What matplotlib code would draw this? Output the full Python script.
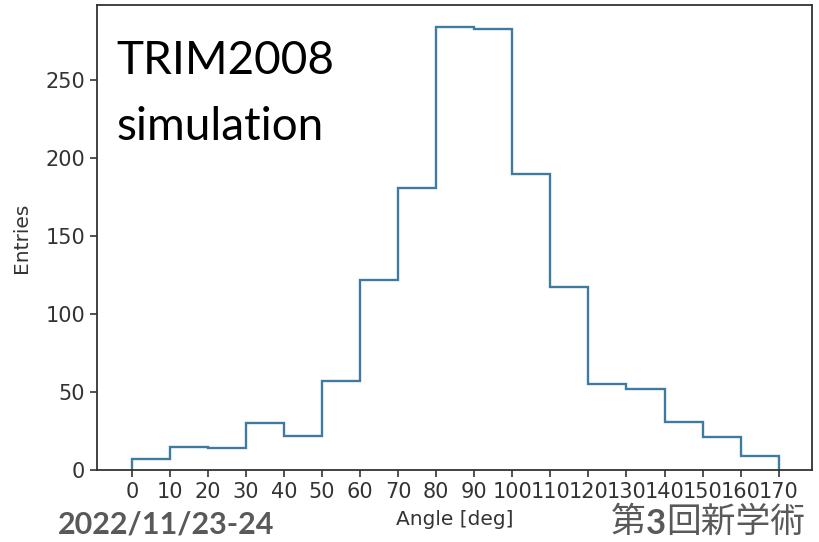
import numpy as np
import matplotlib.pyplot as plt

# angular distribution, 10 deg bins from 0 to 170
edges = np.arange(0, 180, 10)
counts = [7, 15, 14, 30, 22, 57, 122, 181, 284, 283, 190, 117, 55, 52, 31, 21, 9]
xticks = np.arange(0, 180, 10)
yticks = [0, 50, 100, 150, 200, 250]

fig = plt.figure(figsize=(8.2, 5.42), dpi=100)
ax = fig.add_axes([0.118, 0.133, 0.872, 0.858])

ax.hist(edges[:-1], bins=edges, weights=counts, histtype='step',
        color='#3f7aa1', linewidth=1.7)

ax.set_xlim(-9.2, 178.7)
ax.set_xticks(xticks)
ax.set_yticks(yticks)
ax.tick_params(labelsize=15, length=5, width=1.2, color='#333333', labelcolor='#333333')
for s in ax.spines.values():
    s.set_linewidth(1.3)
    s.set_color('#333333')

ax.set_xlabel('Angle [deg]', fontsize=14.5, color='#333333', labelpad=6)
ax.set_ylabel('Entries', fontsize=14.5, color='#333333', labelpad=10)

ax.text(0.028, 0.852, 'TRIM2008', transform=ax.transAxes,
        fontsize=33, family='Lato', va='baseline', ha='left')
ax.text(0.028, 0.710, 'simulation', transform=ax.transAxes,
        fontsize=33, family='Lato', va='baseline', ha='left')

# footer
grey = '#595959'
fig.text(0.07, 0.006, '2022/11/23-24', fontsize=22, family='Lato',
         fontweight='bold', color=grey, va='bottom', ha='left')
t1 = fig.text(0.745, 0.004, '第', fontsize=25, family='Noto Sans CJK JP',
              color=grey, va='bottom', ha='left')
t2 = ax.annotate('3', xy=(1, 0), xycoords=t1, fontsize=25, family='Lato',
                 fontweight='bold', color=grey, va='bottom', ha='left',
                 annotation_clip=False)
ax.annotate('回新学術', xy=(1, 0), xycoords=t2, fontsize=25,
            family='Noto Sans CJK JP', color=grey, va='bottom', ha='left',
            annotation_clip=False)

fig.savefig('out.png', dpi=100)
